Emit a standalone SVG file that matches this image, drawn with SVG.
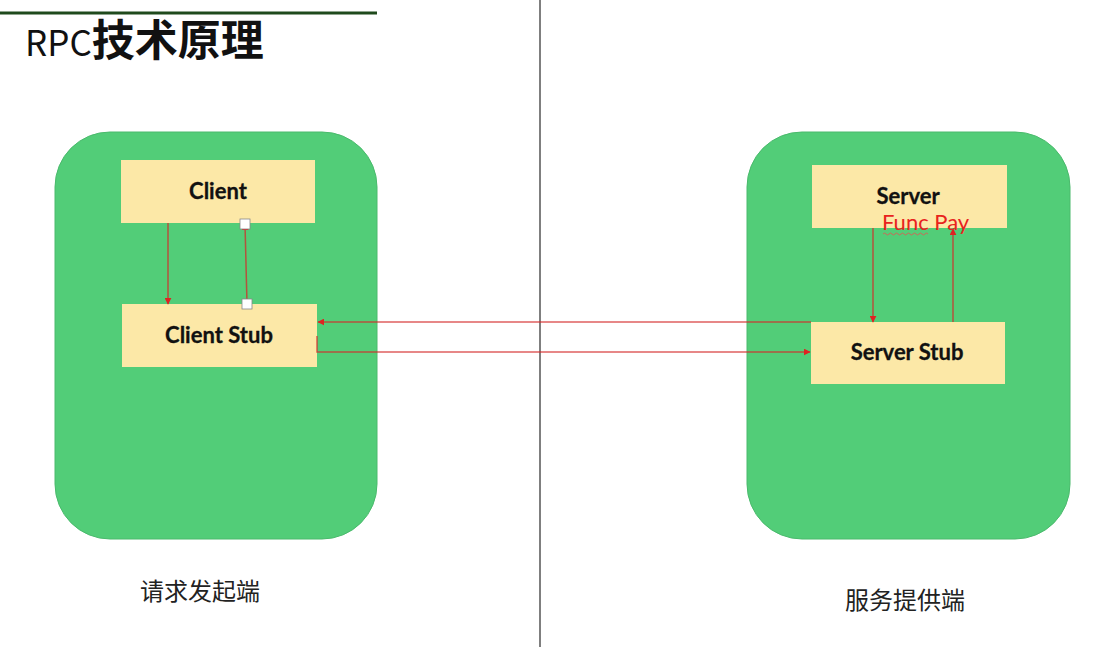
<svg xmlns="http://www.w3.org/2000/svg" width="1099" height="647" viewBox="0 0 1099 647">
<defs>
<style>
.zone{fill:#52CD78;stroke:#4ABA6C;stroke-width:1}
.box{fill:#FCE8A7}
.lbl{font-family:Lato,"Liberation Sans",sans-serif;font-weight:bold;font-size:22px;fill:#111;text-anchor:middle;stroke:#111;stroke-width:0.3}
.cn{font-family:"Noto Sans CJK SC",sans-serif;font-size:24px;fill:#222}
.con{stroke:#D42A2A;stroke-opacity:0.75;stroke-width:1.5;fill:none}
.handle{fill:#fff;stroke:#888;stroke-width:0.8}
</style>
<marker id="ah" viewBox="0 0 10 10" refX="9" refY="5" markerWidth="7" markerHeight="7" orient="auto" markerUnits="userSpaceOnUse">
<path d="M0,0 L10,5 L0,10 z" fill="#E02222"/>
</marker>
</defs>
<rect width="1099" height="647" fill="#fff"/>
<g id="title">
<line x1="0" y1="13" x2="377" y2="13" stroke="#1F4A1C" stroke-width="3"/>
<text x="25" y="56" font-family="'Noto Sans CJK SC',sans-serif" fill="#111"><tspan font-size="35">RPC</tspan><tspan font-size="43" font-weight="bold">技术原理</tspan></text>
</g>
<line id="divider" x1="540" y1="0" x2="540" y2="647" stroke="#555" stroke-width="1.5"/>
<g id="client-zone">
<rect class="zone" x="55" y="132" width="322" height="407" rx="55"/>
<text class="cn" x="140" y="600">请求发起端</text>
</g>
<g id="server-zone">
<rect class="zone" x="747" y="132" width="323" height="407" rx="55"/>
<text class="cn" x="845" y="609">服务提供端</text>
</g>
<g id="client">
<rect class="box" x="121" y="160" width="194" height="63"/>
<text class="lbl" x="218" y="199">Client</text>
</g>
<g id="client-stub">
<rect class="box" x="122" y="304" width="195" height="63"/>
<text class="lbl" x="219" y="343">Client Stub</text>
</g>
<g id="server">
<rect class="box" x="812" y="165" width="195" height="63"/>
<text class="lbl" x="908" y="204">Server</text>
</g>
<g id="server-stub">
<rect class="box" x="811" y="322" width="194" height="62"/>
<text class="lbl" x="907" y="360">Server Stub</text>
</g>
<g id="connectors">
<line class="con" x1="168" y1="223" x2="168" y2="304" marker-end="url(#ah)"/>
<line class="con" x1="247" y1="304" x2="245" y2="224" marker-end="url(#ah)"/>
<line class="con" x1="811" y1="322" x2="318" y2="322" marker-end="url(#ah)"/>
<path class="con" d="M317,336 V352 H810" marker-end="url(#ah)"/>
<line class="con" x1="873" y1="228" x2="873" y2="322" marker-end="url(#ah)"/>
<line class="con" x1="953" y1="322" x2="953" y2="229" marker-end="url(#ah)"/>
<rect class="handle" x="240" y="219" width="10" height="10"/>
<rect class="handle" x="242" y="299" width="10" height="10"/>
</g>
<g id="func-pay">
<text x="882" y="230" font-family="Lato,'Liberation Sans',sans-serif" font-size="22" fill="#E8231D">Func Pay</text>
<path d="M883,234 q1.5,-2 3,0 t3,0 t3,0 t3,0 t3,0 t3,0 t3,0 t3,0 t3,0 t3,0 t3,0 t3,0 t3,0 t3,0 t3,0" fill="none" stroke="#E85050" stroke-width="0.8"/>
</g>
</svg>
